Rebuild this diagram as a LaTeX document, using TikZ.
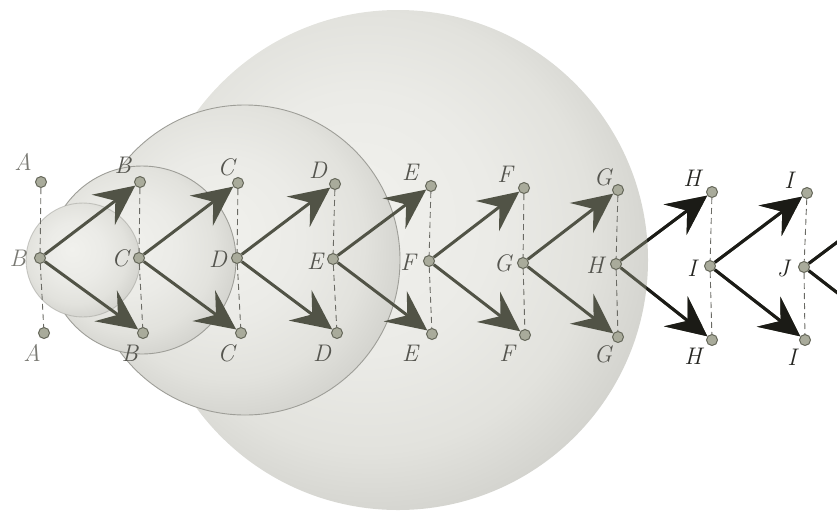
\documentclass[tikz,border=0pt]{standalone}
\usetikzlibrary{arrows.meta}
\definecolor{arrowC}{HTML}{515346}
\definecolor{arrowD}{HTML}{1B1B16}
\definecolor{ptfill}{HTML}{A9AB9B}
\definecolor{ptdraw}{HTML}{65675A}
\definecolor{labC}{HTML}{55554F}
\definecolor{labA}{HTML}{7A7A74}
\definecolor{labD}{HTML}{262622}
\definecolor{dashC}{HTML}{6A6A64}
\definecolor{sA}{HTML}{F1F1ED}
\definecolor{sB}{HTML}{EBEBE7}
\definecolor{sC}{HTML}{E2E2DD}
\definecolor{sD}{HTML}{D4D4CF}
\definecolor{sE}{HTML}{C0C0BA}
\definecolor{rimC}{HTML}{9E9E98}
\pgfdeclareradialshading{sph}{\pgfpoint{-5bp}{5bp}}{color(0bp)=(sA); color(13bp)=(sB); color(22bp)=(sC); color(28bp)=(sD); color(32bp)=(sE); color(50bp)=(sE)}
\pgfdeclarelayer{bg}
\pgfdeclarelayer{mid}
\pgfsetlayers{bg,mid,main}
\begin{document}
\begin{tikzpicture}[x=1pt,y=-1pt,
  pt/.style={circle,inner sep=0pt,minimum size=11pt,fill=ptfill,draw=ptdraw,line width=1pt},
  lab/.style={font=\fontsize{24}{24}\selectfont\itshape,inner sep=0pt},
  arr/.style={draw=arrowC,line width=3pt,-{Stealth[length=40pt,width=38pt,inset=15pt]}},
  dsh/.style={draw=dashC,line width=0.9pt,dash pattern=on 6pt off 4pt},
  rim/.style={draw=rimC,line width=0.9pt}]
\useasboundingbox (0,0) rectangle (837,512);
% points
\foreach \i/\xt/\yt/\xm/\ym/\xb/\yb in {1/41/182/40/258/44/333, 2/140/182/139/258/143/333, 3/238/183/237/258/241/333, 4/335/184/333/259/337/333, 5/431/186/429/261/432/334, 6/524/188/523/263/525/335, 7/618/190/616/264/618/337, 8/712/192/710/266/712/340, 9/807/193/804/267/805/340}{
  \node[pt] (t\i) at (\xt,\yt) {};
  \node[pt] (m\i) at (\xm,\ym) {};
  \node[pt] (b\i) at (\xb,\yb) {};
}
\coordinate (t10) at (900,195);
\coordinate (b10) at (901,342);
% labels
\foreach \n/\x/\y/\s/\c in {lt1/23/162/A/labA, lm1/18/258/B/labA, lb1/32/353/A/labA,
  lt2/123/165/B/labC, lm2/120/258/C/labC, lb2/130/353/B/labC,
  lt3/226/167/C/labC, lm3/218/259/D/labC, lb3/226/353/C/labC,
  lt4/318/170/D/labC, lm4/315/261/E/labC, lb4/322/353/D/labC,
  lt5/410/172/E/labC, lm5/408/262/F/labC, lb5/410/353/E/labC,
  lt6/505/174/F/labC, lm6/503/263/G/labC, lb6/507/353/F/labC,
  lt7/603/177/G/labC, lm7/595/265/H/labC, lb7/603/354/G/labC,
  lt8/692/178/H/labD, lm8/692/268/I/labD, lb8/693/356/H/labD,
  lt9/789/180/I/labD, lm9/783/269/J/labD, lb9/792/357/I/labD}{
  \node[lab,text=\c] (\n) at (\x,\y) {\s};
}
% spheres
\begin{pgfonlayer}{bg}
  \shade[shading=sph] (398,260) circle (250);
  \shade[shading=sph] (245,260) circle (155);
  \draw[rim] (245,260) circle (155);
  \shade[shading=sph] (142,260) circle (94);
  \draw[rim] (142,260) circle (94);
  \shade[shading=sph] (83,260) circle (57);
  \draw[rim,draw opacity=0.5] (83,260) circle (57);
\end{pgfonlayer}
% dashes and arrows
\begin{pgfonlayer}{mid}
  \foreach \i in {1,...,9} {\draw[dsh] (t\i) -- (m\i) -- (b\i);}
  \foreach \i [count=\j from 2] in {1,...,9} {
    \draw[arr] (m\i) -- (t\j);
    \draw[arr] (m\i) -- (b\j);
  }
  \begin{scope}
    \clip (560,0) -- (560,512) -- (900,512) -- (900,0) -- cycle
          (648,260) arc[start angle=0,end angle=360,radius=250];
    \foreach \i [count=\j from 8] in {7,8,9} {
      \draw[arr,draw=arrowD] (m\i) -- (t\j);
      \draw[arr,draw=arrowD] (m\i) -- (b\j);
    }
  \end{scope}
\end{pgfonlayer}
\end{tikzpicture}
\end{document}
